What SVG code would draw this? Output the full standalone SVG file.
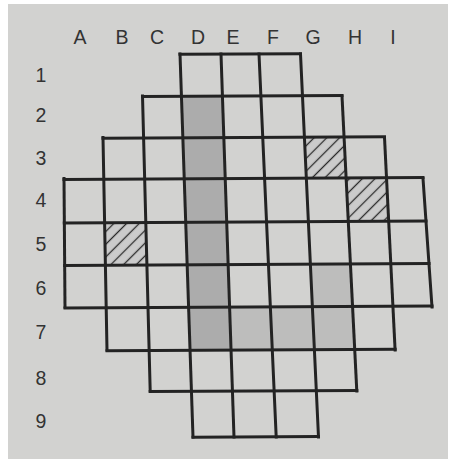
<svg xmlns="http://www.w3.org/2000/svg" width="449" height="462" viewBox="0 0 449 462">
  <style>
    .lbl { font-family: "Liberation Sans", Arial, sans-serif; font-size: 19.5px; fill: #333; text-anchor: middle; }
    .grid line { stroke: #232323; stroke-width: 3; stroke-linecap: square; }
    .shade { fill: #acacac; }
    .shade2 { fill: #bdbdbc; }
    .hatch { fill: url(#hatchPat); }
  </style>
  <defs>
    <pattern id="hatchPat" patternUnits="userSpaceOnUse" width="9" height="9" patternTransform="rotate(45)">
      <rect width="9" height="9" fill="#cbcbcb"/>
      <line x1="4.5" y1="0" x2="4.5" y2="9" stroke="#2a2a2a" stroke-width="1.3"/>
    </pattern>
  </defs>
  <rect x="0" y="0" width="449" height="462" fill="#ffffff"/>
  <rect x="8" y="4" width="440" height="455" fill="#d2d2d0"/>

  <g id="labels-columns">
    <text class="lbl" x="80" y="44">A</text>
    <text class="lbl" x="122" y="44">B</text>
    <text class="lbl" x="157" y="44">C</text>
    <text class="lbl" x="198" y="44">D</text>
    <text class="lbl" x="233" y="44">E</text>
    <text class="lbl" x="273" y="44">F</text>
    <text class="lbl" x="313" y="44">G</text>
    <text class="lbl" x="355" y="44">H</text>
    <text class="lbl" x="393" y="44">I</text>
  </g>
  <g id="labels-rows">
    <text class="lbl" x="41" y="82">1</text>
    <text class="lbl" x="41" y="122">2</text>
    <text class="lbl" x="41" y="165">3</text>
    <text class="lbl" x="41" y="207">4</text>
    <text class="lbl" x="41" y="251">5</text>
    <text class="lbl" x="41" y="295">6</text>
    <text class="lbl" x="41" y="339">7</text>
    <text class="lbl" x="41" y="385">8</text>
    <text class="lbl" x="41" y="428">9</text>
  </g>

  <g id="shading">
    <polygon class="shade" points="181.4,96 222.4,96 231.1,350 190.1,350"/>
    <polygon class="shade2" points="229.6,307 270.4,307 272.3,350 231.1,350"/>
    <polygon class="shade2" points="270.4,307 312.4,307 314.4,350 272.3,350"/>
    <polygon class="shade2" points="312.4,307 352.6,307 354.7,350 314.4,350"/>
    <polygon class="shade2" points="310.4,264.5 350.4,264.5 352.6,307 312.4,307"/>
  </g>

  <g id="hatched">
    <polygon id="cell-B5" class="hatch" points="104.6,222 145.8,222 146.9,264.5 105.4,264.5"/>
    <polygon id="cell-G3" class="hatch" points="304.4,137.5 344.1,137.5 346.1,178.5 306.4,178.5"/>
    <polygon id="cell-H4" class="hatch" points="346.1,178.5 386.5,178.5 388.7,222 348.3,222"/>
  </g>

  <g id="grid" class="grid">
    <line x1="64" y1="178.5" x2="65" y2="307"/>
    <line x1="103" y1="137.5" x2="107" y2="350"/>
    <line x1="142.5" y1="96" x2="150.2" y2="391"/>
    <line x1="180" y1="54" x2="193" y2="437"/>
    <line x1="221" y1="54" x2="234" y2="437"/>
    <line x1="259" y1="54" x2="276.2" y2="437"/>
    <line x1="300.5" y1="54" x2="318.5" y2="437"/>
    <line x1="342" y1="96" x2="356.8" y2="391"/>
    <line x1="384.5" y1="137.5" x2="395.1" y2="350"/>
    <line x1="423" y1="178.5" x2="432" y2="307"/>

    <line x1="180" y1="54.3" x2="300.5" y2="53.7"/>
    <line x1="142.5" y1="96.5" x2="342" y2="95.5"/>
    <line x1="103" y1="138.2" x2="384.5" y2="136.8"/>
    <line x1="64" y1="179.4" x2="423" y2="177.6"/>
    <line x1="64.3" y1="222.9" x2="426" y2="221.1"/>
    <line x1="64.7" y1="265.4" x2="429" y2="263.6"/>
    <line x1="65" y1="307.9" x2="432" y2="306.1"/>
    <line x1="107" y1="350.7" x2="395.1" y2="349.3"/>
    <line x1="150.2" y1="391.5" x2="356.8" y2="390.5"/>
    <line x1="193" y1="437.3" x2="318.5" y2="436.6"/>
  </g>
</svg>
